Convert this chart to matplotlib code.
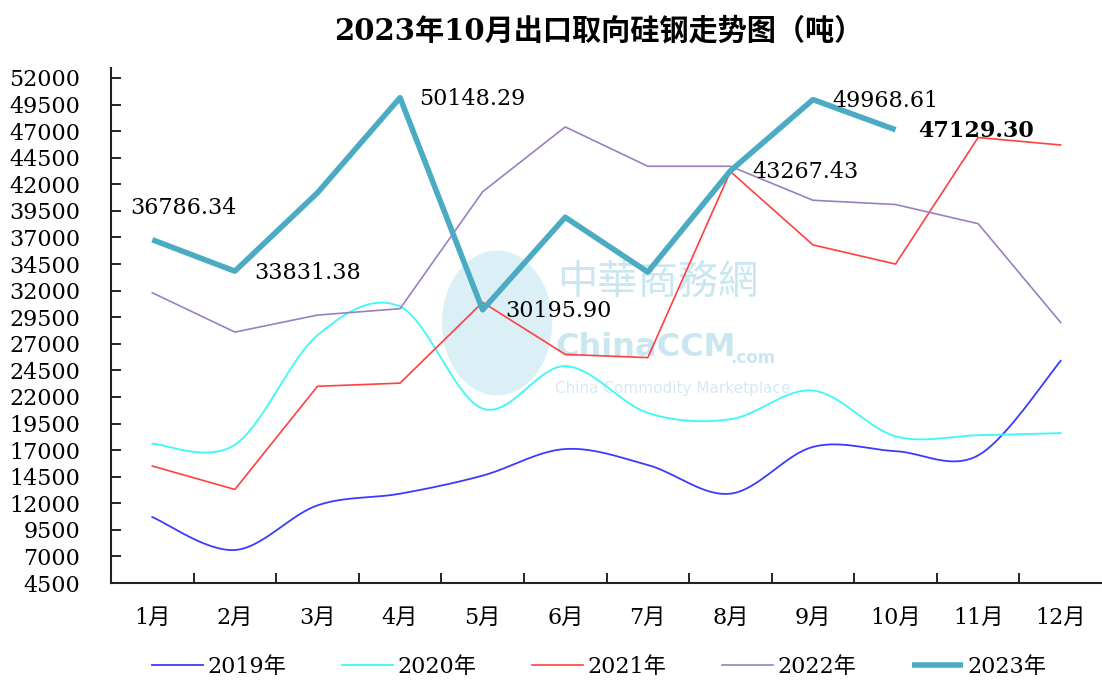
import numpy as np
import matplotlib
matplotlib.use("Agg")
import matplotlib.pyplot as plt
from matplotlib.patches import Ellipse

plt.rcParams['font.family'] = ['DejaVu Serif', 'Noto Sans CJK SC', 'DejaVu Sans']

months = ['1月', '2月', '3月', '4月', '5月', '6月', '7月', '8月', '9月', '10月', '11月', '12月']
s2019 = [10700, 7600, 11800, 12900, 14600, 17100, 15600, 12900, 17300, 16900, 16500, 25400]
s2020 = [17600, 17500, 27800, 30500, 20900, 24900, 20500, 19900, 22600, 18300, 18400, 18600]
s2021 = [15500, 13300, 23000, 23300, 30900, 26000, 25700, 43200, 36300, 34500, 46400, 45700]
s2022 = [31800, 28100, 29700, 30300, 41300, 47400, 43700, 43700, 40500, 40100, 38300, 29000]
s2023 = [36786.34, 33831.38, 41200, 50148.29, 30195.90, 38900, 33750, 43267.43, 49968.61, 47129.30]
labeled_idx = [0, 1, 3, 4, 7, 8, 9]
yticks = list(range(4500, 52001, 2500))


def smooth(y, n=20):
    # Catmull-Rom spline through the points (display smoothing)
    y = np.asarray(y, float)
    x = np.arange(len(y), dtype=float)
    P = np.vstack([x, y]).T
    P = np.vstack([P[0], P, P[-1]])
    out = []
    for i in range(1, len(P) - 2):
        p0, p1, p2, p3 = P[i - 1], P[i], P[i + 1], P[i + 2]
        t = np.linspace(0, 1, n, endpoint=False)[:, None]
        seg = 0.5 * ((2 * p1) + (-p0 + p2) * t + (2 * p0 - 5 * p1 + 4 * p2 - p3) * t ** 2
                     + (-p0 + 3 * p1 - 3 * p2 + p3) * t ** 3)
        out.append(seg)
    out.append(P[-2][None, :])
    out = np.vstack(out)
    return out[:, 0], out[:, 1]


W, H = 1102, 687
fig = plt.figure(figsize=(W / 100, H / 100), dpi=100)
ax = fig.add_axes([111 / W, 1 - 583 / H, (W - 111) / W, (583 - 68) / H])


def fx(px):
    return px / W


def fy(py):
    return 1 - py / H


# watermark (globe + text)
ax.add_patch(Ellipse((fx(497), fy(323)), 110 / W, 145 / H, transform=fig.transFigure,
                     facecolor='#bfe2f0', edgecolor='none', alpha=0.55, zorder=0.5))
ax.text(fx(557), fy(282), '中華商務網', transform=fig.transFigure, fontsize=29, color='#b3dcec',
        alpha=0.7, family=['Noto Sans CJK TC', 'Noto Sans CJK SC'], ha='left', va='center', zorder=0.6)
ax.text(fx(555), fy(347), 'ChinaCCM', transform=fig.transFigure, fontsize=23, color='#b3dcec',
        alpha=0.7, family=['DejaVu Sans'], fontweight='bold', ha='left', va='center', zorder=0.6)
ax.text(fx(730), fy(358), '.com', transform=fig.transFigure, fontsize=12, color='#b3dcec',
        alpha=0.7, family=['DejaVu Sans'], fontweight='bold', ha='left', va='center', zorder=0.6)
ax.text(fx(555), fy(388), 'China Commodity Marketplace', transform=fig.transFigure, fontsize=11,
        color='#c4e2ee', alpha=0.7, family=['DejaVu Sans'], ha='left', va='center', zorder=0.6)

x = np.arange(len(months))
sx, sy = smooth(s2019)
ax.plot(sx, sy, color='#3b3bff', lw=1.3, label='2019年')
sx, sy = smooth(s2020)
ax.plot(sx, sy, color='#3cf8f8', lw=1.3, label='2020年')
ax.plot(x, s2021, color='#ff4040', lw=1.2, label='2021年')
ax.plot(x, s2022, color='#9a80c0', lw=1.2, label='2022年')
ax.plot(x[:len(s2023)], s2023, color='#4aabc3', lw=4, label='2023年', solid_capstyle='butt')

# data labels
offsets = {0: (-16, 23), 1: (14, -1), 3: (14, -1), 4: (16, -1), 7: (16, -1), 8: (14, -1), 9: (16, -1)}
for i in labeled_idx:
    dx, dy = offsets[i]
    ax.annotate(f"{s2023[i]:.2f}", (x[i], s2023[i]), xytext=(dx, dy), textcoords='offset points',
                fontsize=16, ha='left', va='center',
                fontweight='bold' if i == 9 else 'normal')

ax.set_xlim(-0.5, 11.5)
ax.set_ylim(4500, 4500 + (583 - 68) / (583 - 78) * 47500)
ax.set_yticks(yticks)
ax.set_yticklabels([str(v) for v in yticks], fontsize=16)
ax.set_xticks(x)
ax.set_xticklabels(months, fontsize=16)
ax.set_xticks(np.arange(0.5, 11.5, 1), minor=True)
ax.tick_params(axis='x', which='major', length=0, pad=17)
ax.tick_params(axis='x', which='minor', direction='in', length=7, width=1.2)
ax.tick_params(axis='y', direction='in', length=7, width=1.2, pad=22)
for s in ['top', 'right']:
    ax.spines[s].set_visible(False)
for s in ['left', 'bottom']:
    ax.spines[s].set_linewidth(1.5)
    ax.spines[s].set_color('#222222')

fig.text(599 / W, fy(31), '2023年10月出口取向硅钢走势图（吨）', fontsize=21, fontweight='bold',
         ha='center', va='center', family=['DejaVu Serif', 'Noto Sans CJK SC'])

leg = fig.legend(loc='center', bbox_to_anchor=(599 / W, fy(667)), ncol=5, frameon=False,
                 fontsize=16, handlelength=2.3, columnspacing=2.5, handletextpad=0.2)

fig.savefig('out.png', dpi=100)
